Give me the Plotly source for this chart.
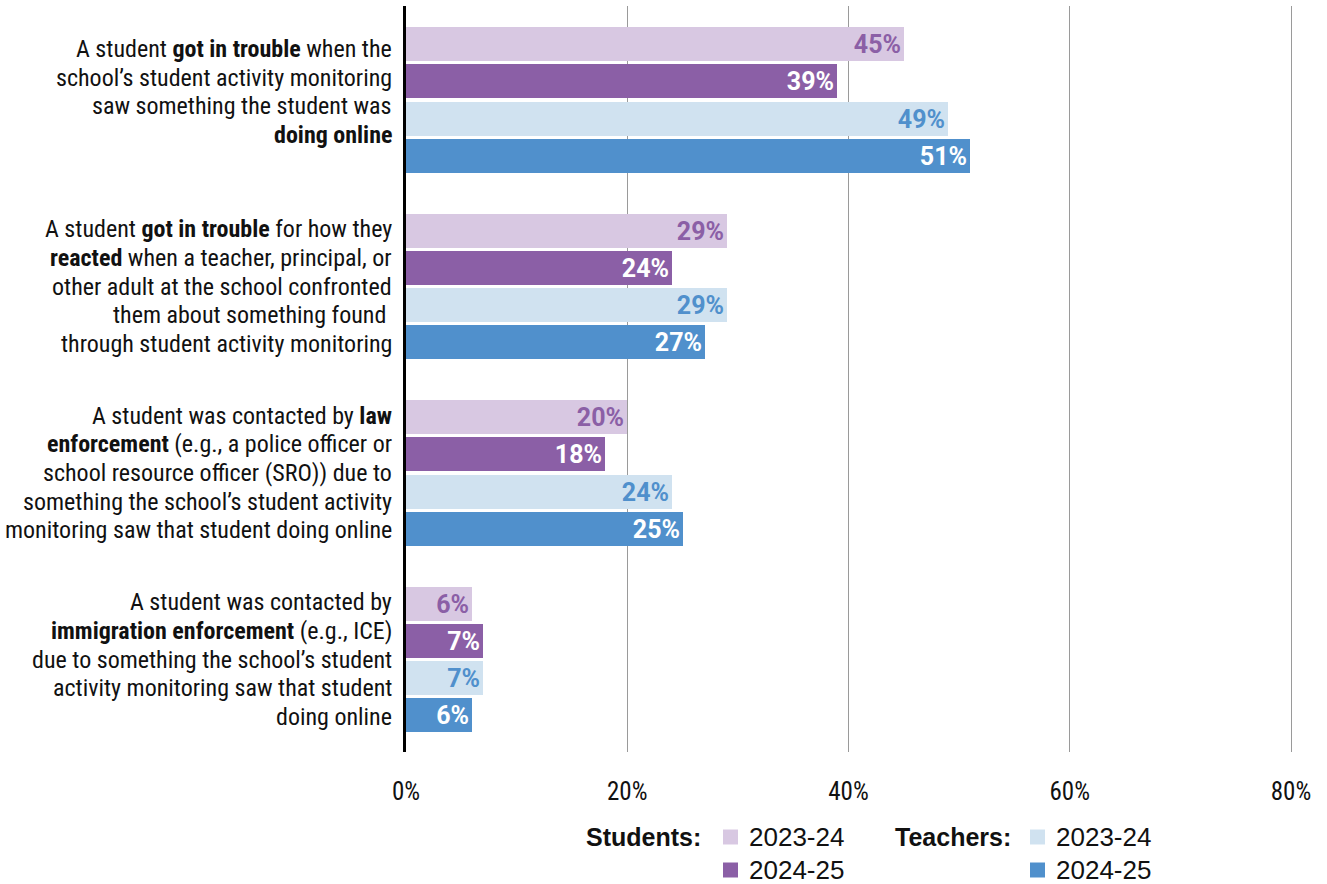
import plotly.graph_objects as go

categories = [
    "A student <b>got in trouble</b> when the<br>school’s student activity monitoring<br>saw something the student was<br><b>doing online</b>",
    "A student <b>got in trouble</b> for how they<br><b>reacted</b> when a teacher, principal, or<br>other adult at the school confronted<br>them about something found <br>through student activity monitoring",
    "A student was contacted by <b>law</b><br><b>enforcement</b> (e.g., a police officer or<br>school resource officer (SRO)) due to<br>something the school’s student activity<br>monitoring saw that student doing online",
    "A student was contacted by<br><b>immigration enforcement</b> (e.g., ICE)<br>due to something the school’s student<br>activity monitoring saw that student<br>doing online",
]
students_2324 = [45, 29, 20, 6]
students_2425 = [39, 24, 18, 7]
teachers_2324 = [49, 29, 24, 7]
teachers_2425 = [51, 27, 25, 6]
tick_vals = [0, 20, 40, 60, 80]
tick_text = ["0%", "20%", "40%", "60%", "80%"]

series = [
    ("Students 2023-24", students_2324, "#D8C8E2", "#8B5FA6"),
    ("Students 2024-25", students_2425, "#8B5FA6", "#FFFFFF"),
    ("Teachers 2023-24", teachers_2324, "#D0E2F0", "#5090CC"),
    ("Teachers 2024-25", teachers_2425, "#5090CC", "#FFFFFF"),
]

COND = "Liberation Sans Narrow, Roboto Condensed, Roboto, sans-serif"
SANS = "Liberation Sans, Arial, sans-serif"
BARFONT = "Roboto, Liberation Sans, sans-serif"

fig = go.Figure()
for s, (name, vals, color, tcolor) in enumerate(series):
    fig.add_trace(go.Bar(
        x=vals,
        y=[g * 5 + s for g in range(len(vals))],
        orientation="h",
        width=0.91,
        marker=dict(color=color, line=dict(width=0)),
        text=[f"{v}%" for v in vals],
        textposition="inside",
        insidetextanchor="end",
        textfont=dict(family=BARFONT, size=25, color=tcolor, weight="bold"),
        constraintext="none",
        name=name,
        showlegend=False,
        hoverinfo="skip",
    ))

annotations = []
LINE_PX = 28.7
for g, cat in enumerate(categories):
    lines = cat.split("<br>")
    n = len(lines)
    for k, line in enumerate(lines):
        shift = -(k - (n - 1) / 2) * LINE_PX + (8 if g == 0 else 0)
        annotations.append(dict(
            x=0, y=g * 5 + 1.5, xref="x", yref="y",
            text=line, showarrow=False, xanchor="right", yanchor="middle",
            align="right", xshift=-12, yshift=shift,
            font=dict(family=COND, size=24, color="#111111"),
        ))

# plot area geometry (pixels)
L, T, B = 406.0, 6.0, 752.0
XMAX = 80.36
PX_PER_UNIT = (1291.0 - L) / 80.0
W = XMAX * PX_PER_UNIT
H = B - T
R = 1327.0 - L - W

def px(xp):
    return (xp - L) / W
def py(yp):
    return (B - yp) / H

shapes = []
legend_items = [
    ("<b>Students:</b>", 703, 837, [(723, 837, "#D8C8E2", "2023-24"), (723, 870, "#8B5FA6", "2024-25")]),
    ("<b>Teachers:</b>", 1013, 837, [(1030, 837, "#D0E2F0", "2023-24"), (1030, 870, "#5090CC", "2024-25")]),
]
for title, tx, ty, entries in legend_items:
    annotations.append(dict(
        x=px(tx), y=py(ty), xref="paper", yref="paper", text=title,
        showarrow=False, xanchor="right", yanchor="middle",
        font=dict(family=SANS, size=25, color="#111111"),
    ))
    for sx, sy, col, lab in entries:
        shapes.append(dict(
            type="rect", xref="paper", yref="paper",
            x0=px(sx), x1=px(sx + 15), y0=py(sy - 7.5), y1=py(sy + 7.5),
            fillcolor=col, line=dict(width=0),
        ))
        annotations.append(dict(
            x=px(sx + 24), y=py(sy), xref="paper", yref="paper", text=lab,
            showarrow=False, xanchor="left", yanchor="middle",
            font=dict(family=SANS, size=26, color="#111111"),
        ))

fig.update_layout(
    width=1327, height=884,
    margin=dict(l=L, r=R, t=T, b=884 - B, autoexpand=False),
    paper_bgcolor="white", plot_bgcolor="white",
    barmode="overlay",
    bargap=0,
    xaxis=dict(
        range=[0, XMAX], tickvals=tick_vals, ticktext=tick_text,
        showgrid=True, gridcolor="#9A9A9A", gridwidth=1,
        zeroline=False, showline=False, ticks="",
        tickfont=dict(family=COND, size=25, color="#111111"),
        ticklabelstandoff=22, fixedrange=True,
    ),
    yaxis=dict(
        range=[18.98, -1.02], showticklabels=False, showgrid=False,
        zeroline=False, showline=True, linecolor="#000000", linewidth=3,
        ticks="", fixedrange=True,
    ),
    annotations=annotations,
    shapes=shapes,
)

fig.write_html(
    "out.html",
    config={"displayModeBar": False},
    post_script="document.body.style.margin='0px';document.body.style.overflow='hidden';",
)
